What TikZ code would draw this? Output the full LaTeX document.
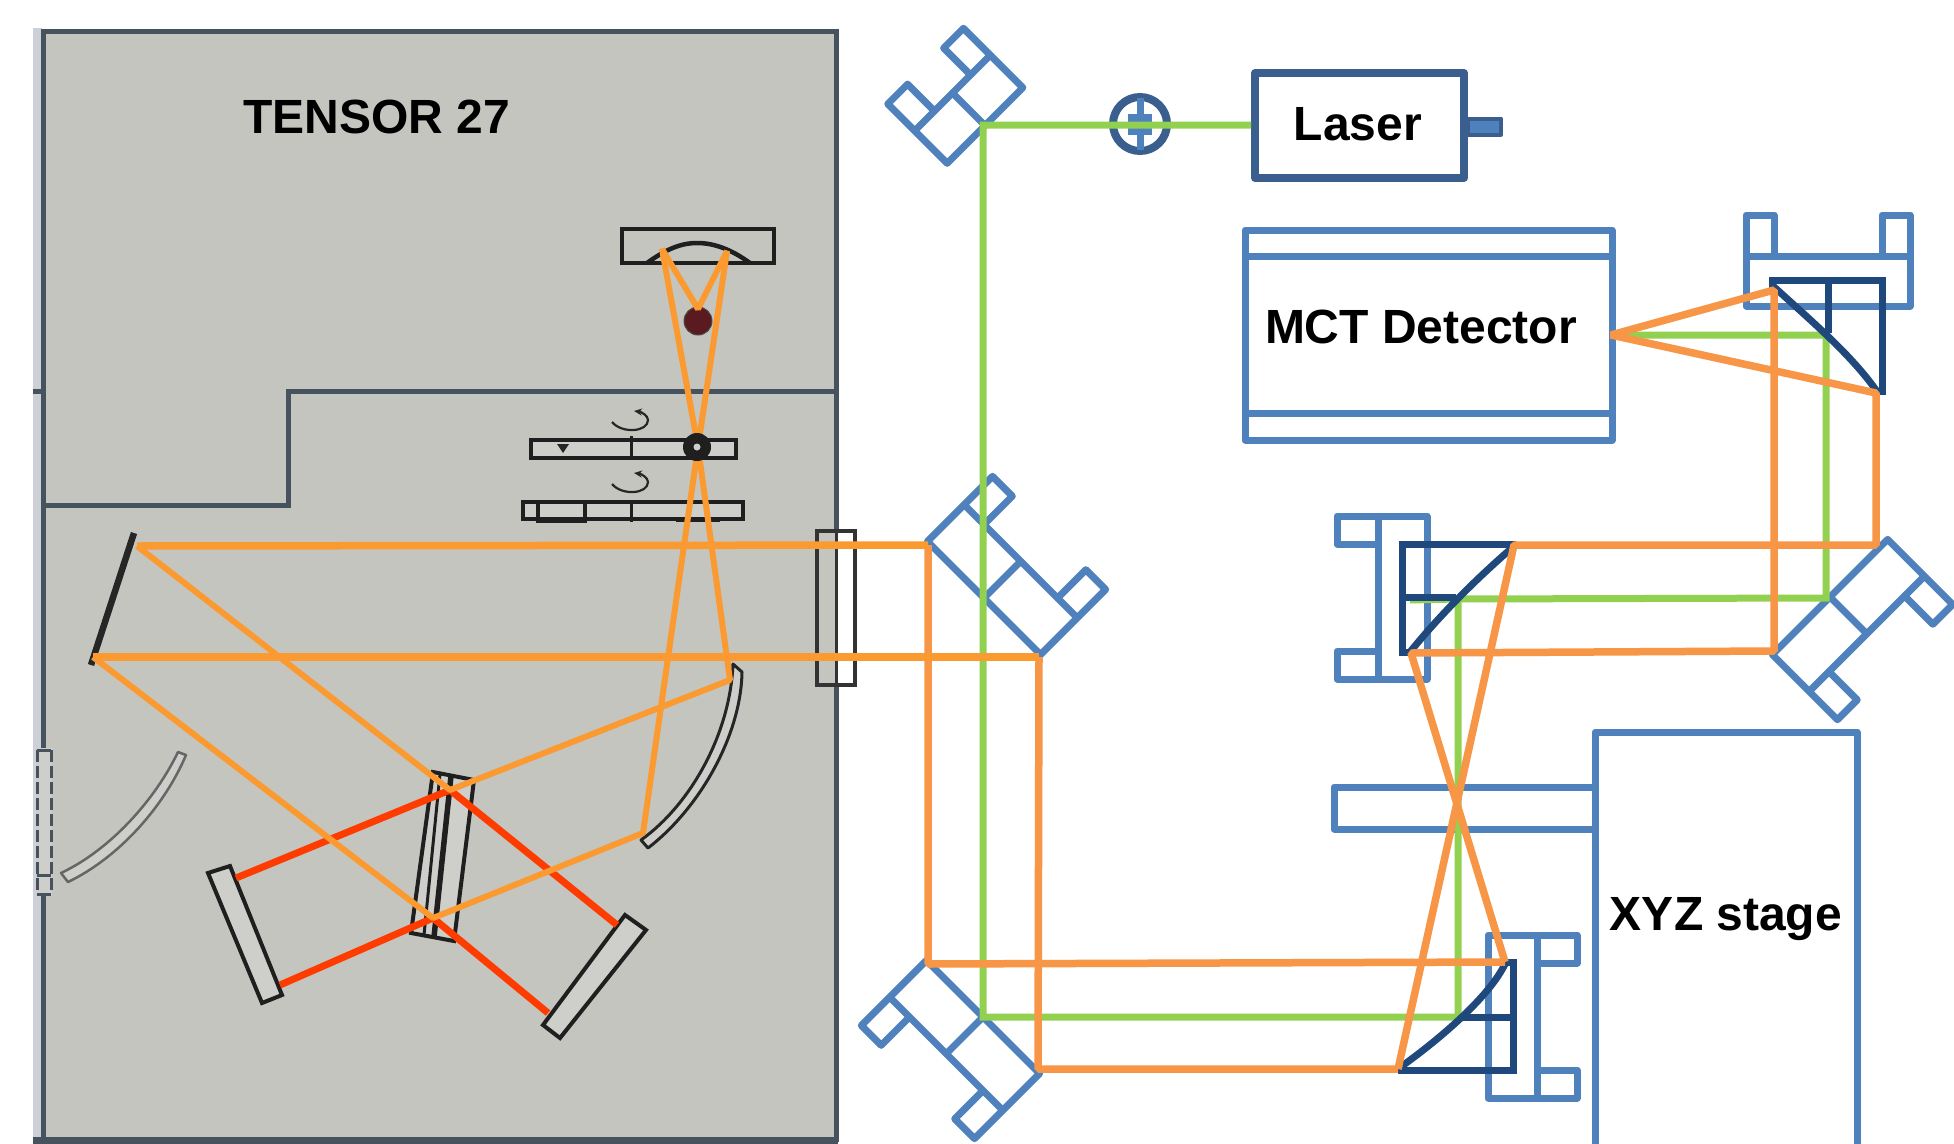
\documentclass[tikz,border=0pt]{standalone}
\usepackage{fontspec}
\setmainfont{Liberation Sans}
\usetikzlibrary{arrows.meta}
\definecolor{panelgray}{HTML}{C5C5C0}
\definecolor{paneledge}{HTML}{47525F}
\definecolor{panellight}{HTML}{CDD0D6}
\definecolor{partfill}{HTML}{CECECA}
\definecolor{mountblue}{HTML}{4F81BD}
\definecolor{laserblue}{HTML}{3A5F8E}
\definecolor{navy}{HTML}{1F497D}
\definecolor{beamgreen}{HTML}{92D050}
\definecolor{beamorange}{HTML}{F79646}
\definecolor{irorange}{HTML}{FB9A31}
\definecolor{irred}{HTML}{FF3C00}
\definecolor{sourcered}{HTML}{5A1A20}
\tikzset{
  mountline/.style={draw=mountblue,line width=7pt,line join=round},
  lasline/.style={draw=laserblue,line width=8pt,line join=round},
  navyline/.style={draw=navy,line width=7pt,line join=miter},
  greenbeam/.style={draw=beamgreen,line width=7pt,line join=miter},
  orangebeam/.style={draw=beamorange,line width=7.5pt,line join=bevel},
  irbeam/.style={draw=irorange,line width=7.5pt,line join=bevel},
  irthin/.style={draw=irorange,line width=6pt,line join=bevel},
  redbeam/.style={draw=irred,line width=7pt},
  blackpart/.style={draw=black!88,line width=4.5pt,line join=miter},
  edgeline/.style={draw=paneledge,line width=5pt},
  label/.style={font=\fontsize{48}{50}\selectfont\bfseries,text=black,inner sep=0pt},
}
% cx, cy, rotation, length, body depth, tab depth, with cross line (1) or not (0)
\newcommand{\mountshape}[7]{%
  \begin{scope}[shift={(#1,#2)},rotate=#3]
    \pgfmathsetmacro{\hl}{#4/2}
    \pgfmathsetmacro{\hi}{#4/2-28}
    \pgfmathsetmacro{\db}{-#5}
    \pgfmathsetmacro{\dt}{-#5-#6}
    \draw[mountline] (-\hl,0) -- (\hl,0) -- (\hl,\dt) -- (\hi,\dt) -- (\hi,\db)
      -- (-\hi,\db) -- (-\hi,\dt) -- (-\hl,\dt) -- cycle;
    \draw[mountline] (-\hl,\db) -- (-\hi,\db) (\hi,\db) -- (\hl,\db);
    \ifnum#7=1 \draw[mountline] (0,0) -- (0,\db); \fi
  \end{scope}}
\begin{document}
\begin{tikzpicture}[x=1pt,y=-1pt]
\useasboundingbox (0,0) rectangle (1954,1143);
\fill[white] (0,0) rectangle (1954,1143);
% ---- instrument panel
\fill[panellight] (33,28) rectangle (42,1143);
\fill[panelgray] (42,31) rectangle (837,1138);
\draw[edgeline] (43,31) -- (836,31) -- (836,1139) -- (43,1139) -- cycle;
\draw[edgeline,line width=7pt] (33,1140) -- (838,1140);
\draw[edgeline] (33,391) -- (43,391);
\draw[edgeline] (836,391) -- (288,391) -- (288,505) -- (43,505);
\node[label] (tensor) at (377,117) {TENSOR 27};
% source module
\draw[blackpart] (622,229) rectangle (774,263);
\draw[blackpart] (647,263) .. controls (665,250) and (680,243) .. (697,243)
   .. controls (715,243) and (732,250) .. (750,263);
\fill[sourcered,draw=black!70,line width=1pt] (698,321) circle [radius=14];
% wheels
\draw[blackpart,fill=partfill] (531,440) rectangle (736,458);
\draw[blackpart,line width=3pt] (631,436) -- (631,460);
\fill[black!85] (557,444) -- (569,444) -- (563,453) -- cycle;
\draw[blackpart,fill=partfill] (523,502) rectangle (743,519);
\draw[blackpart,line width=3pt] (631,500) -- (631,522);
\draw[blackpart] (538,504) -- (538,521) -- (585,521) -- (585,504);
\draw[blackpart,line width=4pt] (676,520) -- (720,520);
\draw[black!85,line width=2.2pt,-{Stealth[length=8pt,width=7pt]}] (612,422) .. controls (622,434) and (648,432) .. (648,420) .. controls (648,416) and (642,412) .. (634,411);
\draw[black!85,line width=2.2pt,-{Stealth[length=8pt,width=7pt]}] (612,484) .. controls (622,496) and (648,494) .. (648,482) .. controls (648,478) and (642,474) .. (634,473);
% window
\fill[white] (836,531) rectangle (855,685);
\fill[panelgray] (817,531) rectangle (836,685);
\draw[black!80,line width=4pt] (817,531) rectangle (855,685);
\draw[black!80,line width=3pt] (836,531) -- (836,685);
% flat mirror
\draw[black!85,line width=6.5pt] (134,533) -- (91,665);
% curved mirrors
\draw[draw=black!85,fill=partfill,line width=3pt,line join=round]
  (733,664) -- (742,672) .. controls (741,735) and (700,808) .. (648,848)
  -- (641,840) .. controls (690,805) and (730,735) .. (733,664) -- cycle;
\draw[draw=black!60,fill=partfill,line width=2.5pt,line join=round]
  (178,752) -- (186,755) .. controls (165,805) and (120,857) .. (68,882)
  -- (61,873) .. controls (110,850) and (155,800) .. (178,752) -- cycle;
% left edge device
\fill[partfill] (36,748) rectangle (52,895);
\draw[paneledge,line width=3pt,dash pattern=on 12pt off 4pt] (37,750) -- (37,893) (51,750) -- (51,893);
\draw[paneledge,line width=3pt] (37,750) -- (51,750) (37,875) -- (51,875) (37,894) -- (51,894);
% beamsplitter
\draw[blackpart,line width=4pt,fill=partfill] (433,772) -- (474,780) -- (454,941) -- (411,933) -- cycle;
\draw[blackpart,line width=5.5pt] (451,776) -- (434,937);
\draw[blackpart,line width=3pt] (440,774) -- (424,935);
% interferometer mirrors
\draw[blackpart,line width=4pt,fill=partfill] (208,873) -- (230,866) -- (282,995) -- (262,1003) -- cycle;
\draw[blackpart,line width=4pt,fill=partfill] (625,915) -- (646,930) -- (560,1038) -- (543,1025) -- cycle;
% coordinates of the beams
\coordinate (ma) at (137,546);
\coordinate (mb) at (93,657);
\coordinate (bsa) at (450,790);
\coordinate (bsb) at (433,918);
\coordinate (ca) at (730,680);
\coordinate (cb) at (643,833);
\coordinate (focus) at (698,447);
\coordinate (ta) at (662,249);
\coordinate (tb) at (727,251);
\coordinate (src) at (698,309);
\coordinate (lma) at (236,878);
\coordinate (lmb) at (280,985);
\coordinate (rma) at (617,925);
\coordinate (rmb) at (548,1013);
\coordinate (m2a) at (928,545);
\coordinate (m2b) at (1039,657);
% red arms
\draw[redbeam] (bsa) -- (lma);
\draw[redbeam] (bsb) -- (lmb);
\draw[redbeam] (bsa) -- (rma);
\draw[redbeam] (bsb) -- (rmb);
% IR beams in panel
\draw[irthin] (ma) -- (bsa) -- (ca) -- (focus) -- (ta) -- (src) -- (tb) -- (focus) -- (cb) -- (bsb) -- (mb);
% aperture on the wheel
\fill[black!88] (697,447) circle [radius=14];
\fill[partfill] (697,447) circle [radius=3.5];
% ---- right side
\coordinate (a1) at (983,125);
\coordinate (a3) at (983,1017);
\coordinate (c3) at (1458,1017);
\coordinate (c2) at (1458,599);
\coordinate (b2) at (1410,600);
\coordinate (a4) at (1826,598);
\coordinate (a5) at (1826,335);
\coordinate (det) at (1611,335);
\coordinate (m3a) at (928,964);
\coordinate (m3b) at (1038,1069);
\coordinate (pc1) at (1505,962);
\coordinate (pc2) at (1398,1069);
\coordinate (pb1) at (1514,545);
\coordinate (pb2) at (1411,653);
\coordinate (m4a) at (1876,545);
\coordinate (m4b) at (1774,651);
\coordinate (pa1) at (1876,393);
\coordinate (pa2) at (1774,290);
% mirror mounts
\mountshape{985}{125.5}{45}{107}{46}{38}{1}
\mountshape{984}{598}{-45}{160}{52}{40}{1}
\mountshape{983}{1017}{135}{160}{52}{40}{1}
\mountshape{1830}{597}{-135}{163}{52}{40}{1}
\mountshape{1828}{306}{0}{164}{50}{41}{0}
\mountshape{1427}{597.5}{90}{163}{49}{41}{0}
\mountshape{1488}{1016.5}{-90}{163}{49}{40}{0}
% boxes
\draw[mountline] (1245,230) rectangle (1612,440);
\draw[mountline] (1245,256) -- (1612,256) (1245,413) -- (1612,413);
\node[label] (mct) at (1421,327) {MCT Detector};
\draw[mountline] (1595,1150) -- (1595,732) -- (1857,732) -- (1857,1150);
\node[label] (xyz) at (1726,919) {XYZ stage};
\draw[mountline] (1595,787) -- (1334,787) -- (1334,829) -- (1595,829);
\draw[lasline] (1255,73) rectangle (1464,178);
\node[label] (laser) at (1358,124) {Laser};
\draw[draw=laserblue,line width=4pt,fill=mountblue,line join=round] (1468,118.5) rectangle (1501,134.5);
\coordinate (lasout) at (1251,125);
% lens
\draw[lasline] (1140,124) circle [radius=27];
\fill[mountblue] (1136.5,98) rectangle (1143.5,150);
\fill[mountblue] (1128,114) rectangle (1152,135);
% green beam
\draw[greenbeam] (lasout) -- (a1) -- (a3) -- (c3) -- (c2) -- (b2);
\draw[greenbeam] (c2) -- (a4) -- (a5) -- (det);
% parabolic mirrors
\draw[navyline] (1772,290) -- (1772,280) -- (1882,280) -- (1882,395);
\draw[navyline] (1828,280) -- (1828,333);
\draw[navyline] (1772,285) .. controls (1810,320) and (1852,355) .. (1878,393);
\draw[navyline] (1516,544) -- (1402,544) -- (1402,652) -- (1412,652);
\draw[navyline] (1402,597) -- (1456,597);
\draw[navyline] (1513,547) .. controls (1475,580) and (1440,615) .. (1410,652);
\draw[navyline] (1505,962) -- (1513,962) -- (1513,1070) -- (1398,1070);
\draw[navyline] (1460,1017) -- (1513,1017);
\draw[navyline] (1505,964) .. controls (1490,995) and (1445,1035) .. (1402,1066);
% orange beams
\draw[orangebeam] (pc1) -- (m3a) -- (m2a);
\draw[orangebeam] (pc2) -- (m3b) -- (m2b);
\draw[orangebeam] (pc1) -- (pb2) -- (m4b) -- (pa2) -- (det) -- (pa1) -- (m4a) -- (pb1) -- (pc2);
\draw[irbeam] (ma) -- (m2a);
\draw[irbeam] (mb) -- (m2b);
\end{tikzpicture}
\end{document}
